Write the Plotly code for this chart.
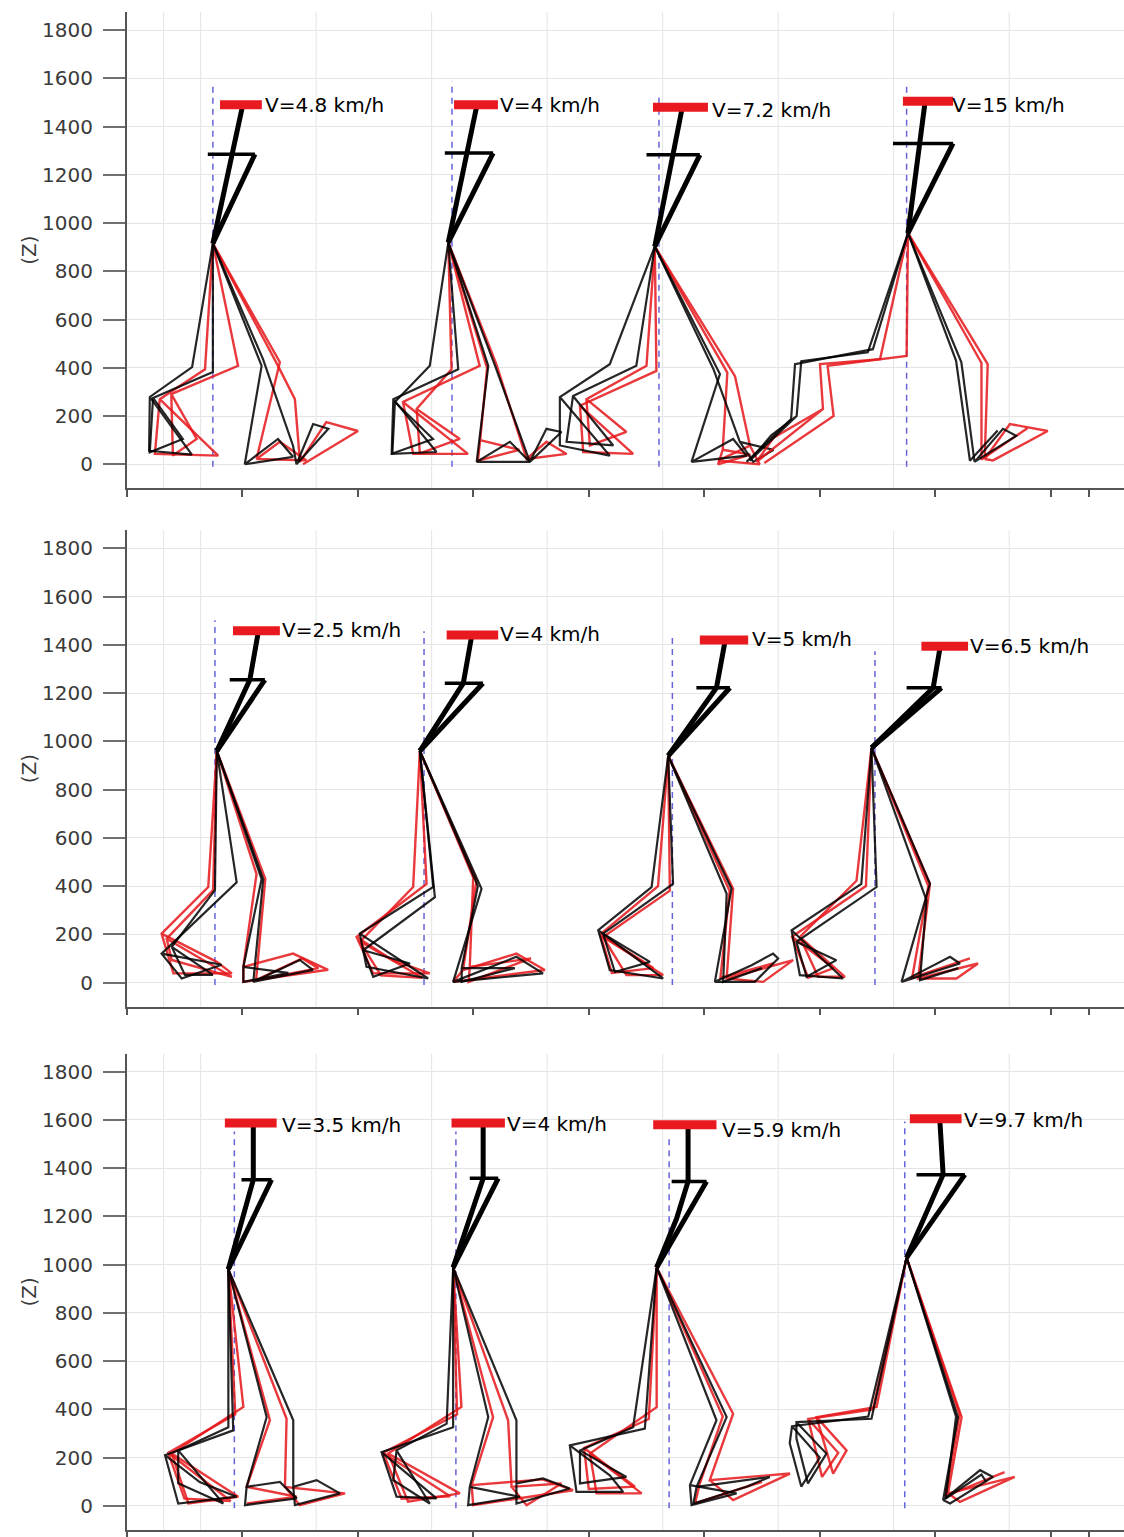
import plotly.graph_objects as go

# ---------------- data (x and Z in mm) ----------------
speed_labels = ["V=4.8 km/h", "V=4 km/h", "V=7.2 km/h", "V=15 km/h",
                "V=2.5 km/h", "V=4 km/h", "V=5 km/h", "V=6.5 km/h",
                "V=3.5 km/h", "V=4 km/h", "V=5.9 km/h", "V=9.7 km/h"]
panel_index = [0, 0, 0, 0, 1, 1, 1, 1, 2, 2, 2, 2]
label_x = [591, 1608, 2525, 3564, 663, 1608, 2698, 3642, 663, 1637, 2568, 3614]
label_y = [1490, 1490, 1470, 1490, 1460, 1445, 1425, 1395, 1580, 1585, 1560, 1600]

head_x1 = [404, 1417, 2278, 3360, 460, 1385, 2481, 3440, 425, 1406, 2279, 3390]
head_x2 = [585, 1607, 2516, 3577, 663, 1608, 2690, 3642, 649, 1637, 2553, 3614]
head_y = [1490, 1490, 1480, 1505, 1458, 1441, 1420, 1394, 1587, 1587, 1580, 1605]

dash_x = [373, 1408, 2304, 3376, 382, 1287, 2362, 3239, 466, 1425, 2348, 3368]
dash_top = [1580, 1587, 1530, 1579, 1502, 1456, 1448, 1373, 1552, 1552, 1524, 1593]
dash_bottom = -10

spine_x = [[499, 456], [1513, 1473], [2402, 2364], [3455, 3434],
           [569, 533], [1493, 1457], [2589, 2553], [3520, 3491],
           [548, 548], [1543, 1543], [2430, 2430, 2380], [3520, 3534]]
spine_y = [[1475, 1285], [1475, 1290], [1465, 1283], [1495, 1330],
           [1450, 1255], [1435, 1241], [1410, 1222], [1385, 1222],
           [1580, 1352], [1580, 1358], [1575, 1345, 1190], [1595, 1373]]

shoulder_x1 = [351, 1377, 2250, 3317, 446, 1377, 2466, 3376, 497, 1485, 2359, 3419]
shoulder_x2 = [555, 1586, 2481, 3577, 598, 1542, 2611, 3527, 627, 1608, 2510, 3628]
shoulder_y = [1285, 1290, 1283, 1330, 1255, 1241, 1222, 1222, 1352, 1358, 1345, 1373]

hip_x = [373, 1392, 2286, 3382, 390, 1269, 2344, 3224, 440, 1413, 2294, 3376]
hip_y = [915, 919, 903, 958, 960, 960, 940, 973, 981, 988, 988, 1029]

# leg polylines (knee -> ankle -> foot), each starting from the hip; None separates frames
leg_black_x = [
    [283, 100, 97, 282, 100, None, 373, 114, 100, 243, 114, None, 584, 511, 655, 720, 511, None, 590, 720, 735, 807, 873, 735],
    [1435, 1154, 1147, 1341, 1154, None, 1312, 1161, 1150, 1326, 1161, None, 1565, 1515, 1659, 1745, 1515, None, 1594, 1745, 1817, 1882, 1745],
    [2091, 1875, 1875, 2091, 1875, None, 2206, 1932, 1904, 2106, 1932, None, 2568, 2445, 2625, 2683, 2445, None, 2540, 2654, 2712, 2800, 2654],
    [3208, 2920, 2900, 2697, 2790, 2900, None, 3230, 2893, 2876, 2683, None, 3613, 3670, 3793, 3850, 3670, None, 3590, 3650, 3770],
    [476, 151, 238, 411, 151, None, 382, 195, 252, 373, 195, None, 591, 548, 749, 806, 548, None, 584, 505, 505, 700, 505],
    [1327, 1009, 1038, 1305, 1009, None, 1334, 1024, 1067, 1226, 1024, None, 1536, 1413, 1687, 1802, 1413, None, 1520, 1450, 1450, 1680, 1450],
    [2272, 2041, 2091, 2322, 2041, None, 2365, 2062, 2113, 2265, 2062, None, 2618, 2546, 2705, 2798, 2820, 2719, 2546, None, 2597, 2582, 2750, 2582],
    [3180, 2878, 2914, 3101, 2878, None, 3246, 2899, 2943, 3072, 2899, None, 3477, 3354, 3564, 3607, 3354, None, 3462, 3434, 3600, 3434],
    [461, 166, 223, 476, 316, 166, None, 440, 223, 223, 418, 223, None, 721, 721, 822, 923, 728, 721, None, 606, 519, 512, 736, 663, 519],
    [1413, 1103, 1168, 1341, 1103, None, 1385, 1168, 1154, 1312, 1168, None, 1687, 1687, 1802, 1918, 1687, 1687, None, 1565, 1485, 1478, 1702, 1485],
    [2243, 1918, 1947, 2149, 2091, 1918, None, 2192, 1962, 1962, 2163, 1962, None, 2597, 2467, 2453, 2683, 2784, 2467, None, 2553, 2438, 2445, 2640, 2438],
    [3224, 2899, 2899, 2949, 3029, 2899, None, 3210, 2880, 2870, 2920, 3000, 2880, None, 3598, 3534, 3694, 3750, 3564, 3534, None, 3590, 3545, 3700, 3720],
]
leg_black_y = [
    [403, 279, 56, 40, 279, None, 382, 275, 50, 105, 275, None, 408, 0, 105, 31, 0, None, 436, 77, 0, 167, 147, 0],
    [394, 270, 43, 51, 270, None, 408, 258, 45, 105, 258, None, 408, 10, 93, 10, 10, None, 410, 10, 147, 134, 10],
    [415, 279, 78, 36, 279, None, 408, 283, 93, 78, 283, None, 374, 10, 105, 36, 10, None, 394, 93, 10, 60, 93],
    [464, 427, 200, 15, 120, 200, None, 477, 415, 188, 10, None, 423, 10, 147, 118, 10, None, 430, 15, 140],
    [416, 120, 17, 74, 120, None, 383, 148, 32, 32, 148, None, 429, 3, 94, 53, 3, None, 429, 65, 3, 40, 65],
    [396, 203, 65, 17, 203, None, 354, 134, 24, 79, 134, None, 389, 3, 107, 38, 3, None, 400, 60, 3, 60, 60],
    [396, 217, 52, 17, 217, None, 409, 203, 44, 86, 203, None, 389, 3, 72, 120, 100, 3, 3, None, 368, 3, 60, 3],
    [409, 217, 31, 17, 217, None, 396, 169, 24, 93, 169, None, 409, 3, 107, 79, 3, None, 341, 10, 60, 10],
    [313, 210, 10, 38, 99, 210, None, 326, 230, 94, 10, 230, None, 355, 79, 107, 52, 3, 79, None, 368, 79, 3, 31, 99, 79],
    [326, 223, 38, 31, 223, None, 341, 230, 107, 10, 230, None, 355, 93, 114, 72, 10, 93, None, 368, 79, 3, 38, 79],
    [320, 251, 58, 58, 127, 251, None, 326, 230, 93, 120, 230, None, 368, 79, 10, 79, 120, 79, None, 355, 86, 3, 52, 86],
    [361, 347, 280, 93, 217, 347, None, 370, 330, 260, 80, 200, 330, None, 368, 24, 148, 120, 10, 24, None, 370, 30, 130, 100],
]
leg_red_x = [
    [339, 143, 122, 396, 143, None, 482, 193, 200, 303, 193, None, 655, 728, 750, 864, 1001, 763, None, 663, 562, 663, 778, 562],
    [1528, 1196, 1240, 1477, 1196, None, 1406, 1255, 1269, 1442, 1255, None, 1600, 1731, 1817, 1904, 1731, None, 1560, 1530, 1520, 1700, 1530],
    [2293, 1962, 1976, 2192, 1962, None, 2250, 1990, 2005, 2163, 1990, None, 2633, 2698, 2740, 2560, 2698, None, 2600, 2580, 2560, 2700, 2580],
    [3261, 3001, 3014, 2726, 2800, 3014, None, 3376, 3034, 3060, 2760, None, 3727, 3714, 3823, 3987, 3750, 3714, None, 3700, 3700, 3900],
    [353, 151, 202, 455, 390, 151, None, 374, 173, 195, 455, 173, None, 562, 505, 505, 872, 720, 505, None, 600, 560, 760, 830, 560],
    [1298, 995, 1067, 1312, 1154, 995, None, 1240, 1010, 1100, 1280, 1010, None, 1514, 1456, 1413, 1810, 1687, 1456, None, 1500, 1485, 1480, 1750, 1485],
    [2351, 2062, 2163, 2322, 2062, None, 2300, 2050, 2100, 2280, 2050, None, 2625, 2597, 2885, 2755, 2597, None, 2610, 2570, 2800],
    [3159, 2914, 2993, 3109, 2914, None, 3200, 2880, 2950, 3060, 2880, None, 3477, 3426, 3685, 3592, 3426, None, 3470, 3400, 3650],
    [505, 195, 267, 483, 195, None, 470, 180, 250, 450, 180, None, 620, 519, 736, 520, None, 692, 685, 945, 749, 685],
    [1449, 1132, 1218, 1442, 1132, None, 1430, 1110, 1190, 1400, 1110, None, 1586, 1493, 1500, 1932, 1800, 1493, None, 1651, 1666, 1882, 1731, 1666],
    [2294, 2005, 2034, 2229, 2005, None, 2260, 1980, 2000, 2200, 1980, None, 2625, 2524, 2871, 2625, 2524, None, 2580, 2480, 2460, 2750],
    [3246, 2986, 3058, 3116, 2986, None, 3230, 2950, 3010, 3080, 2950, None, 3614, 3555, 3844, 3607, 3555, None, 3605, 3545, 3800],
]
leg_red_y = [
    [394, 270, 43, 36, 270, None, 408, 291, 36, 105, 291, None, 408, 270, 10, 175, 138, 0, None, 423, 22, 93, 16, 22],
    [408, 258, 43, 43, 258, None, 394, 229, 45, 105, 229, None, 415, 22, 93, 43, 22, None, 400, 100, 15, 60, 100],
    [387, 243, 51, 43, 243, None, 408, 270, 78, 134, 270, None, 365, 77, 0, 15, 77, None, 380, 60, 0, 40, 60],
    [436, 415, 229, 10, 110, 229, None, 449, 408, 200, 5, None, 415, 22, 167, 138, 16, 22, None, 420, 20, 150],
    [396, 203, 38, 38, 86, 203, None, 383, 182, 94, 24, 182, None, 450, 65, 3, 53, 120, 65, None, 430, 10, 100, 60, 10],
    [409, 189, 38, 38, 92, 189, None, 396, 170, 30, 20, 170, None, 422, 52, 3, 52, 120, 52, None, 436, 65, 3, 100, 65],
    [381, 189, 31, 31, 189, None, 400, 200, 40, 60, 200, None, 389, 17, 93, 3, 17, None, 380, 20, 80],
    [422, 189, 24, 24, 189, None, 400, 190, 20, 60, 190, None, 409, 17, 79, 17, 17, None, 400, 20, 100],
    [410, 217, 10, 38, 217, None, 380, 220, 30, 20, 220, None, 355, 79, 38, 10, None, 361, 79, 52, 3, 79],
    [410, 217, 17, 52, 217, None, 380, 220, 30, 40, 220, None, 368, 86, 3, 65, 110, 86, None, 355, 79, 93, 3, 79],
    [409, 217, 52, 52, 217, None, 360, 240, 70, 80, 240, None, 382, 107, 134, 24, 107, None, 370, 90, 10, 100],
    [410, 368, 134, 230, 368, None, 400, 360, 120, 220, 360, None, 368, 52, 120, 17, 52, None, 380, 40, 140],
]

y_ticks = [0, 200, 400, 600, 800, 1000, 1200, 1400, 1600, 1800]
x_ticks = [0, 500, 1000, 1500, 2000, 2500, 3000, 3500, 4000, 4164]
x_grid = [160, 320, 820, 1320, 1820, 2320, 2820, 3320, 3820]

# ---------------- styling / layout ----------------
FONT = "DejaVu Sans"
BLACK = "rgba(0,0,0,0.85)"
RED = "rgba(230,22,26,0.85)"
HEAD_RED = "#e8191f"
DASH_BLUE = "#6464d8"
GRID = "#e4e4e4"

y_domains = [[0.68120, 0.99219], [0.34288, 0.65387], [0.00130, 0.31230]]
x_domain = [126.7 / 1124, 1.0]
x_range = [0, 4317]
y_range = [-100, 1875]


def axis_names(p):
    return ("x" if p == 0 else f"x{p + 1}"), ("y" if p == 0 else f"y{p + 1}")


def legs_from_hip(xs, ys, hx, hy):
    out_x, out_y = [hx], [hy]
    for x, y in zip(xs, ys):
        if x is None:
            out_x += [None, hx]
            out_y += [None, hy]
        else:
            out_x.append(x)
            out_y.append(y)
    return out_x, out_y


fig = go.Figure()

for i in range(len(speed_labels)):
    xa, ya = axis_names(panel_index[i])
    fig.add_trace(go.Scatter(x=[dash_x[i], dash_x[i]], y=[dash_bottom, dash_top[i]], mode="lines",
                             line=dict(color=DASH_BLUE, width=1.5, dash="6px,5px"),
                             xaxis=xa, yaxis=ya, showlegend=False, hoverinfo="skip"))
    rx, ry = legs_from_hip(leg_red_x[i], leg_red_y[i], hip_x[i], hip_y[i])
    fig.add_trace(go.Scatter(x=rx, y=ry, mode="lines", line=dict(color=RED, width=2.4),
                             xaxis=xa, yaxis=ya, showlegend=False, hoverinfo="skip"))
    bx, by = legs_from_hip(leg_black_x[i], leg_black_y[i], hip_x[i], hip_y[i])
    fig.add_trace(go.Scatter(x=bx, y=by, mode="lines", line=dict(color=BLACK, width=2.2),
                             xaxis=xa, yaxis=ya, showlegend=False, hoverinfo="skip"))
    tx = spine_x[i] + [hip_x[i], None, shoulder_x2[i], hip_x[i]]
    ty = spine_y[i] + [hip_y[i], None, shoulder_y[i], hip_y[i]]
    fig.add_trace(go.Scatter(x=tx, y=ty, mode="lines", line=dict(color="black", width=5),
                             xaxis=xa, yaxis=ya, showlegend=False, hoverinfo="skip"))
    fig.add_trace(go.Scatter(x=[shoulder_x1[i], shoulder_x2[i]], y=[shoulder_y[i], shoulder_y[i]],
                             mode="lines", line=dict(color="black", width=3.5),
                             xaxis=xa, yaxis=ya, showlegend=False, hoverinfo="skip"))
    fig.add_trace(go.Scatter(x=[head_x1[i], head_x2[i]], y=[head_y[i], head_y[i]],
                             mode="lines", line=dict(color=HEAD_RED, width=9),
                             xaxis=xa, yaxis=ya, showlegend=False, hoverinfo="skip"))
    fig.add_annotation(x=label_x[i], y=label_y[i], xref=xa, yref=ya, text=speed_labels[i],
                       showarrow=False, xanchor="left", yanchor="middle",
                       font=dict(family=FONT, size=20, color="black"))

layout = dict(width=1124, height=1537, margin=dict(l=0, r=0, t=0, b=0),
              paper_bgcolor="white", plot_bgcolor="white", showlegend=False)
shapes = []
for p in range(3):
    xa, ya = axis_names(p)
    xkey = "xaxis" if p == 0 else f"xaxis{p + 1}"
    ykey = "yaxis" if p == 0 else f"yaxis{p + 1}"
    layout[xkey] = dict(domain=x_domain, range=x_range, anchor=ya, tickvals=x_ticks,
                        showticklabels=False, ticks="outside", ticklen=7, tickwidth=1.5,
                        tickcolor="#555", showgrid=False, zeroline=False, showline=True,
                        linecolor="#555", linewidth=1.5, fixedrange=True)
    layout[ykey] = dict(domain=y_domains[p], range=y_range, anchor=xa, tickvals=y_ticks,
                        ticks="outside", ticklen=22, tickwidth=2, tickcolor="#707070",
                        ticklabelstandoff=6,
                        tickfont=dict(family=FONT, size=20, color="#3a3a3a"),
                        showgrid=True, gridcolor=GRID, gridwidth=1, zeroline=False,
                        showline=True, linecolor="#555", linewidth=1.5,
                        title=dict(text="(Z)", font=dict(family=FONT, size=20, color="#3a3a3a"),
                                   standoff=0), automargin=False)
    for gx in x_grid:
        shapes.append(dict(type="line", xref=xa, yref=f"{ya} domain", x0=gx, x1=gx, y0=0, y1=1,
                           line=dict(color=GRID, width=1), layer="below"))
layout["shapes"] = shapes
fig.update_layout(**layout)

fig.write_html("out.html", config={"displayModeBar": False},
               post_script="document.body.style.margin='0px';document.body.style.overflow='hidden';")
